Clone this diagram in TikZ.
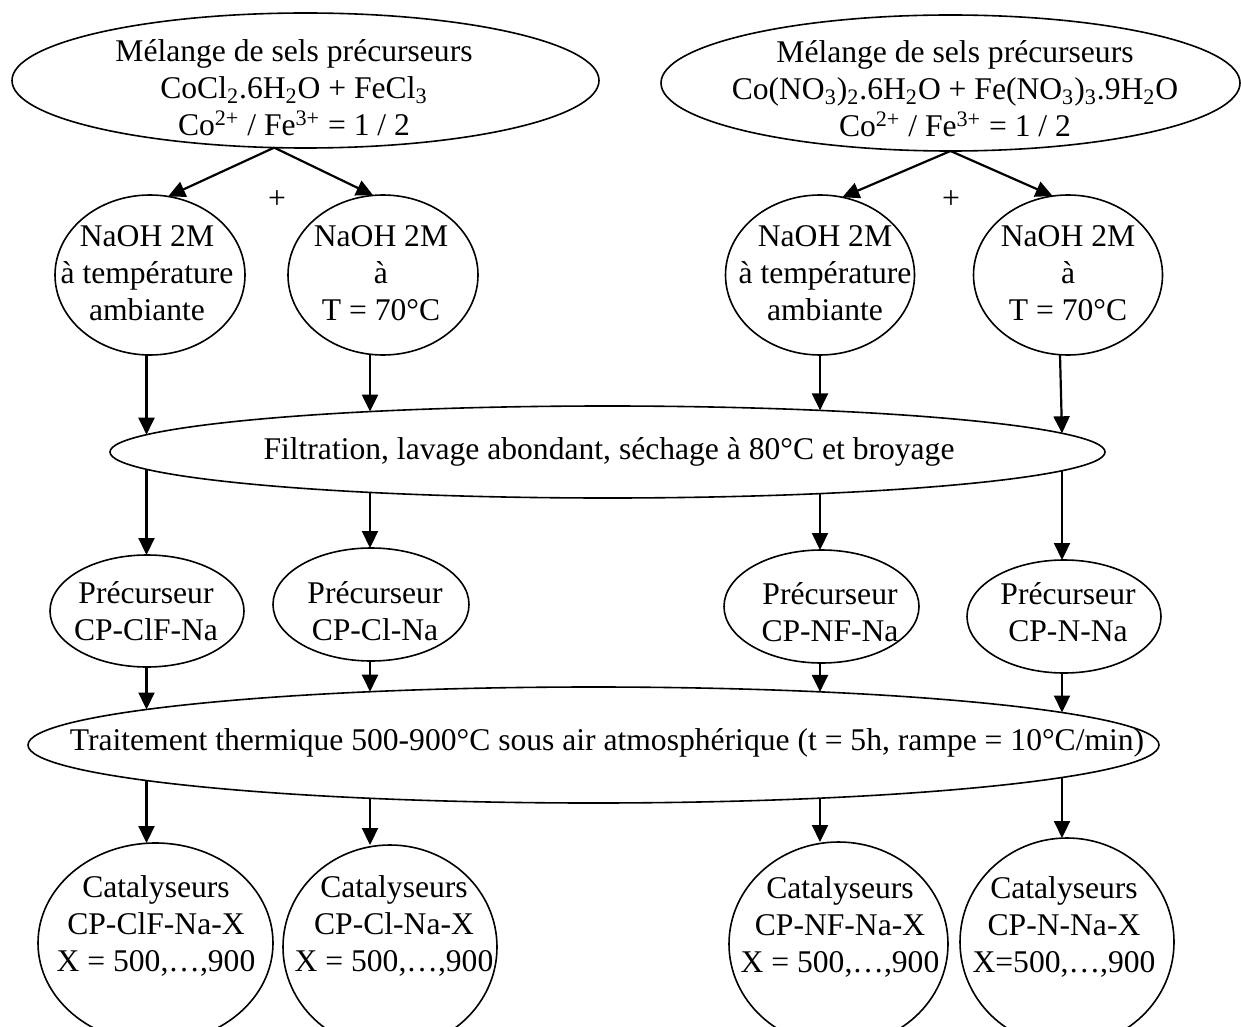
\documentclass[tikz,border=0pt]{standalone}
\usepackage{fontspec}
\setmainfont{Liberation Serif}
\usetikzlibrary{shapes.geometric,arrows.meta,calc}
\tikzset{
  es/.style 2 args={draw, ellipse, inner sep=0pt, outer sep=0pt, line width=0.8pt,
    minimum width=#1*1pt, minimum height=#2*1pt},
  txt/.style={align=center, inner sep=0pt, font=\fontsize{15.8}{18.5}\selectfont},
  arr/.style={line width=1.1pt, -{Triangle[length=8.5pt,width=8pt]}}
}
\begin{document}
\begin{tikzpicture}[x=0.5pt,y=-0.5pt]
\useasboundingbox (0,0) rectangle (1241,1027);
\clip (0,0) rectangle (1241,1027);
% top ellipses
\node[es={293.5}{67.5}] (T1) at (305.5,80.5) {};
\node[txt] (T1t) at (294,88) {Mélange de sels précurseurs\\CoCl\textsubscript{2}.6H\textsubscript{2}O + FeCl\textsubscript{3}\\Co\textsuperscript{2+} / Fe\textsuperscript{3+} = 1 / 2};
\node[es={289.5}{68}] (T2) at (950.5,83) {};
\node[txt] (T2t) at (955,89) {Mélange de sels précurseurs\\Co(NO\textsubscript{3})\textsubscript{2}.6H\textsubscript{2}O + Fe(NO\textsubscript{3})\textsubscript{3}.9H\textsubscript{2}O\\Co\textsuperscript{2+} / Fe\textsuperscript{3+} = 1 / 2};
% plus signs
\node[txt] (plus1) at (277,200) {+};
\node[txt] (plus2) at (951,200) {+};
% NaOH circles
\node[es={95}{80}] (C1) at (150,275) {};
\node[txt] (C1t) at (147,273) {NaOH 2M\\à température\\ambiante};
\node[es={95}{80}] (C2) at (383,275) {};
\node[txt] (C2t) at (381,273) {NaOH 2M\\à\\T = 70°C};
\node[es={94.5}{80}] (C3) at (820,275) {};
\node[txt] (C3t) at (825,273) {NaOH 2M\\à température\\ambiante};
\node[es={94.5}{80}] (C4) at (1068,275) {};
\node[txt] (C4t) at (1068,273) {NaOH 2M\\à\\T = 70°C};
% filtration
\node[es={497.5}{46}] (F) at (607.5,452) {};
\node[txt] (Ft) at (609,452) {Filtration, lavage abondant, séchage à 80°C et broyage};
% precursors
\node[es={97}{56}] (P1) at (147,611) {};
\node[txt] (P1t) at (146,611) {Précurseur\\CP-ClF-Na};
\node[es={98}{56.5}] (P2) at (371,604.5) {};
\node[txt] (P2t) at (375,611) {Précurseur\\CP-Cl-Na};
\node[es={97.5}{56.5}] (P3) at (821.5,606.5) {};
\node[txt] (P3t) at (830,612) {Précurseur\\CP-NF-Na};
\node[es={97}{56.5}] (P4) at (1064,616.5) {};
\node[txt] (P4t) at (1068,612) {Précurseur\\CP-N-Na};
% thermal treatment
\node[es={565.5}{58}] (Tr) at (593.5,745) {};
\node[txt] (Trt) at (607,743) {Traitement thermique 500-900°C sous air atmosphérique (t = 5h, rampe = 10°C/min)};
% catalysts
\node[es={117.5}{100}] (K1) at (155.5,943) {};
\node[txt] (K1t) at (156,926) {Catalyseurs\\CP-ClF-Na-X\\X = 500,…,900};
\node[es={107}{102}] (K2) at (390,947) {};
\node[txt] (K2t) at (394,926) {Catalyseurs\\CP-Cl-Na-X\\X = 500,…,900};
\node[es={109.5}{102}] (K3) at (838.5,944) {};
\node[txt] (K3t) at (840,927) {Catalyseurs\\CP-NF-Na-X\\X = 500,…,900};
\node[es={107}{104}] (K4) at (1067,942) {};
\node[txt] (K4t) at (1064,927) {Catalyseurs\\CP-N-Na-X\\X=500,…,900};
% border points on the wide ellipses
\coordinate (Fa1) at ($(F.center)+(-461,-17.3)$);
\coordinate (Fa2) at ($(F.center)+(-237.5,-40.4)$);
\coordinate (Fa3) at ($(F.center)+(212.5,-41.6)$);
\coordinate (Fa4) at ($(F.center)+(454.5,-18.7)$);
\coordinate (Fb1) at ($(F.center)+(-461,17.3)$);
\coordinate (Fb2) at ($(F.center)+(-237.5,40.4)$);
\coordinate (Fb3) at ($(F.center)+(212.5,41.6)$);
\coordinate (Fb4) at ($(F.center)+(454.5,18.7)$);
\coordinate (Ta1) at ($(Tr.center)+(-447,-35.5)$);
\coordinate (Ta2) at ($(Tr.center)+(-223.5,-53.3)$);
\coordinate (Ta3) at ($(Tr.center)+(226.5,-53.1)$);
\coordinate (Ta4) at ($(Tr.center)+(468.5,-32.5)$);
\coordinate (Tb1) at ($(Tr.center)+(-447,35.5)$);
\coordinate (Tb2) at ($(Tr.center)+(-223.5,53.3)$);
\coordinate (Tb3) at ($(Tr.center)+(226.5,53.1)$);
\coordinate (Tb4) at ($(Tr.center)+(468.5,32.5)$);
% arrows: top
\draw[arr] (T1.245.6) -- (C1.77.3);
\draw[arr] (T1.245.6) -- (C2.97.8);
\draw[arr] (T2.south) -- (C3.74.6);
\draw[arr] (T2.south) -- (C4.101.3);
% circles -> filtration
\draw[arr] (Fa1 |- C1.south) -- (Fa1);
\draw[arr] (Fa2 |- C2.south) -- (Fa2);
\draw[arr] (Fa3 |- C3.south) -- (Fa3);
\draw[arr] ([xshift=-1pt]Fa4 |- C4.south) -- (Fa4);
% filtration -> precursors
\draw[arr] (Fb1) -- (Fb1 |- P1.north);
\draw[arr] (Fb2) -- (Fb2 |- P2.north);
\draw[arr] (Fb3) -- (Fb3 |- P3.north);
\draw[arr] (Fb4) -- (Fb4 |- P4.north);
% precursors -> treatment
\draw[arr] (Ta1 |- P1.south) -- (Ta1);
\draw[arr] (Ta2 |- P2.south) -- (Ta2);
\draw[arr] (Ta3 |- P3.south) -- (Ta3);
\draw[arr] (Ta4 |- P4.south) -- (Ta4);
% treatment -> catalysts
\draw[arr] (Tb1) -- (Tb1 |- K1.north);
\draw[arr] (Tb2) -- (Tb2 |- K2.north);
\draw[arr] (Tb3) -- (Tb3 |- K3.north);
\draw[arr] (Tb4) -- (Tb4 |- K4.north);
\end{tikzpicture}
\end{document}
